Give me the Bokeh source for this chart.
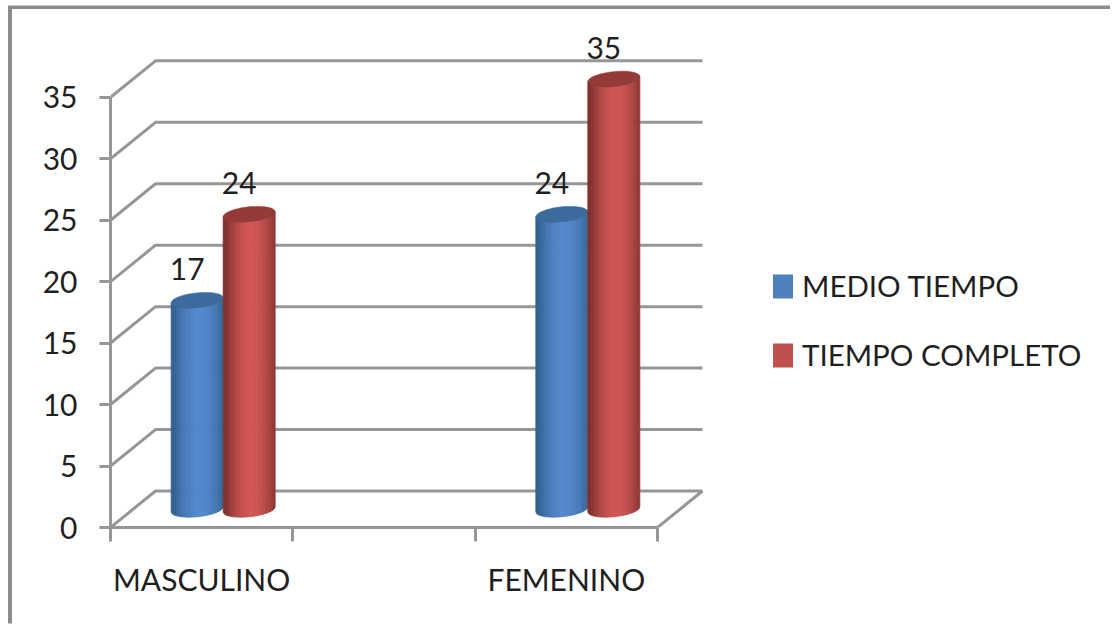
import numpy as np
from bokeh.core.properties import value
from bokeh.embed import file_html
from bokeh.models import ColumnDataSource, FixedTicker, Legend, LegendItem, LinearAxis, Range1d
from bokeh.plotting import figure
from bokeh.resources import INLINE

# Chart content
categories = ["MASCULINO", "FEMENINO"]
category_slots = [0.5, 2.5]
series_names = ["MEDIO TIEMPO", "TIEMPO COMPLETO"]
medio_tiempo = [17, 24]
tiempo_completo = [24, 35]
y_ticks = [0, 5, 10, 15, 20, 25, 30, 35]

# Styles
FONT = "Lato"
TEXT = "#1f1f1f"
GRID = "#969696"
BLUE = dict(edge="#33608f", mid="#5488cc", cap="#3c6a9c", flat="#4f81bd")
RED = dict(edge="#7f302e", mid="#d05654", cap="#943b39", flat="#c0504d")

# Page placement: the figure sits inside a border drawn on its top and left edges
MARGIN_TOP = 9
MARGIN_LEFT = 12
AXIS_LEFT = 110
AXIS_BOTTOM = 527

# Scales: the frame starts on the value axis and stops at the window edge
PX_PER_SLOT = 182.33
PX_PER_UNIT = 12.29
X_MAX = (1114 - AXIS_LEFT) / PX_PER_SLOT
Y_MAX = (AXIS_BOTTOM - MARGIN_TOP) / PX_PER_UNIT
DEPTH_X = 45 / PX_PER_SLOT      # perspective offset of the back wall
DEPTH_Y = 36.5 / PX_PER_UNIT
BAR_RX = 26 / PX_PER_SLOT
BAR_RY = 7.5 / PX_PER_UNIT
BAR_TILT = 2.5 / PX_PER_UNIT
BAR_SHIFT = -1 / PX_PER_SLOT

p = figure(width=1114 - MARGIN_LEFT, height=627 - MARGIN_TOP,
           output_backend="svg", toolbar_location=None,
           x_range=Range1d(0, X_MAX), y_range=Range1d(0, Y_MAX),
           min_border_left=AXIS_LEFT - MARGIN_LEFT, min_border_bottom=627 - AXIS_BOTTOM,
           min_border_top=0, min_border_right=0,
           outline_line_color=None, background_fill_color="white", border_fill_color="white",
           margin=(MARGIN_TOP, 0, 0, MARGIN_LEFT),
           styles={"box-shadow": "-4px -3.5px 0 0 #8c8c8c"})
p.grid.visible = False

# Value axis
yax = p.yaxis[0]
yax.ticker = FixedTicker(ticks=y_ticks)
yax.bounds = (y_ticks[0], y_ticks[-1])
yax.axis_line_color = GRID
yax.axis_line_width = 3
yax.major_tick_line_color = GRID
yax.major_tick_line_width = 3
yax.major_tick_in = 0
yax.major_tick_out = 11
yax.minor_tick_line_color = None
yax.major_label_standoff = 22
yax.major_label_text_font = FONT
yax.major_label_text_font_size = "30px"
yax.major_label_text_color = TEXT

# Category axis: ticks on the slot boundaries, names centred in a second axis
xax = p.xaxis[0]
xax.ticker = FixedTicker(ticks=[0, 1, 2, 3])
xax.bounds = (0, 3)
xax.major_label_overrides = {0: "", 1: "", 2: "", 3: ""}
xax.axis_line_color = GRID
xax.axis_line_width = 3
xax.major_tick_line_color = GRID
xax.major_tick_line_width = 3
xax.major_tick_in = 0
xax.major_tick_out = 14
xax.minor_tick_line_color = None
xax.major_label_text_font_size = "1px"
xax.major_label_standoff = 0

names_axis = LinearAxis(ticker=FixedTicker(ticks=category_slots),
                        major_label_overrides=dict(zip(category_slots, categories)))
names_axis.axis_line_color = None
names_axis.major_tick_line_color = None
names_axis.minor_tick_line_color = None
names_axis.major_label_standoff = 13
names_axis.major_label_text_font = FONT
names_axis.major_label_text_font_size = "30px"
names_axis.major_label_text_color = TEXT
p.add_layout(names_axis, "below")

# Side wall and back wall rules, one for each tick
wall_x, wall_y = [], []
for v in y_ticks:
    wall_x.append([0, DEPTH_X, 3 + DEPTH_X])
    wall_y.append([v, v + DEPTH_Y, v + DEPTH_Y])
wall_x.append([3, 3 + DEPTH_X])
wall_y.append([0, DEPTH_Y])
p.multi_line(wall_x, wall_y, line_color=GRID, line_width=3)


def mix(a, b, t):
    ca = [int(a[i:i + 2], 16) for i in (1, 3, 5)]
    cb = [int(b[i:i + 2], 16) for i in (1, 3, 5)]
    return "#%02x%02x%02x" % tuple(int(round(x + (y - x) * t)) for x, y in zip(ca, cb))


def cylinder(cx, height, palette, strips=30):
    """Shaded cylinder standing half way into the floor depth."""
    base = DEPTH_Y / 2
    top = height + DEPTH_Y / 2
    edges = np.linspace(-1, 1, strips + 1)
    xs, ys, colors = [], [], []
    for t0, t1 in zip(edges[:-1], edges[1:]):
        ts = np.linspace(t0, t1, 4)
        low = base - BAR_RY * np.sqrt(1 - ts ** 2) + BAR_TILT * ts
        high = np.full_like(ts, top) + BAR_TILT * ts
        xs.append(list(cx + BAR_RX * ts) + list(cx + BAR_RX * ts[::-1]))
        ys.append(list(low) + list(high[::-1]))
        tm = (t0 + t1) / 2
        colors.append(mix(palette["mid"], palette["edge"], min(1, abs(tm - 0.1) ** 1.8)))
    p.patches(xs, ys, fill_color=colors, line_color=colors, line_width=0.8)
    a = np.linspace(0, 2 * np.pi, 60)
    p.patch(cx + BAR_RX * np.cos(a), top + BAR_RY * np.sin(a) + BAR_TILT * np.cos(a),
            fill_color=palette["cap"], line_color=palette["cap"], line_width=0.5)


label_x, label_y, label_text = [], [], []
for i, slot in enumerate(category_slots):
    left = slot + DEPTH_X / 2 + BAR_SHIFT - BAR_RX
    right = slot + DEPTH_X / 2 + BAR_SHIFT + BAR_RX
    cylinder(left, medio_tiempo[i], BLUE)
    cylinder(right, tiempo_completo[i], RED)
    label_x += [left, right]
    label_y += [medio_tiempo[i] + DEPTH_Y / 2, tiempo_completo[i] + DEPTH_Y / 2]
    label_text += [str(medio_tiempo[i]), str(tiempo_completo[i])]

p.text(x="x", y="y", text="t", source=ColumnDataSource(dict(x=label_x, y=label_y, t=label_text)),
       x_offset=-10, y_offset=-31, text_align="center", text_baseline="alphabetic",
       text_font=value(FONT), text_font_size="30px", text_color=TEXT)

# Legend swatches come from off-scale renderers carrying the flat series colours
swatch_a = p.quad(left=[np.nan], right=[np.nan], bottom=[np.nan], top=[np.nan],
                  fill_color=BLUE["flat"], line_color=None)
swatch_b = p.quad(left=[np.nan], right=[np.nan], bottom=[np.nan], top=[np.nan],
                  fill_color=RED["flat"], line_color=None)
legend = Legend(items=[LegendItem(label=series_names[0], renderers=[swatch_a]),
                       LegendItem(label=series_names[1], renderers=[swatch_b])],
                location=(660, 155), glyph_width=25, glyph_height=30, spacing=34,
                label_standoff=7, label_text_font=FONT, label_text_font_size="29.5px",
                label_text_color=TEXT, label_height=24, border_line_color=None,
                background_fill_alpha=0, margin=0, padding=0)
p.add_layout(legend, "center")

open("out.html", "w").write(file_html(p, INLINE))
